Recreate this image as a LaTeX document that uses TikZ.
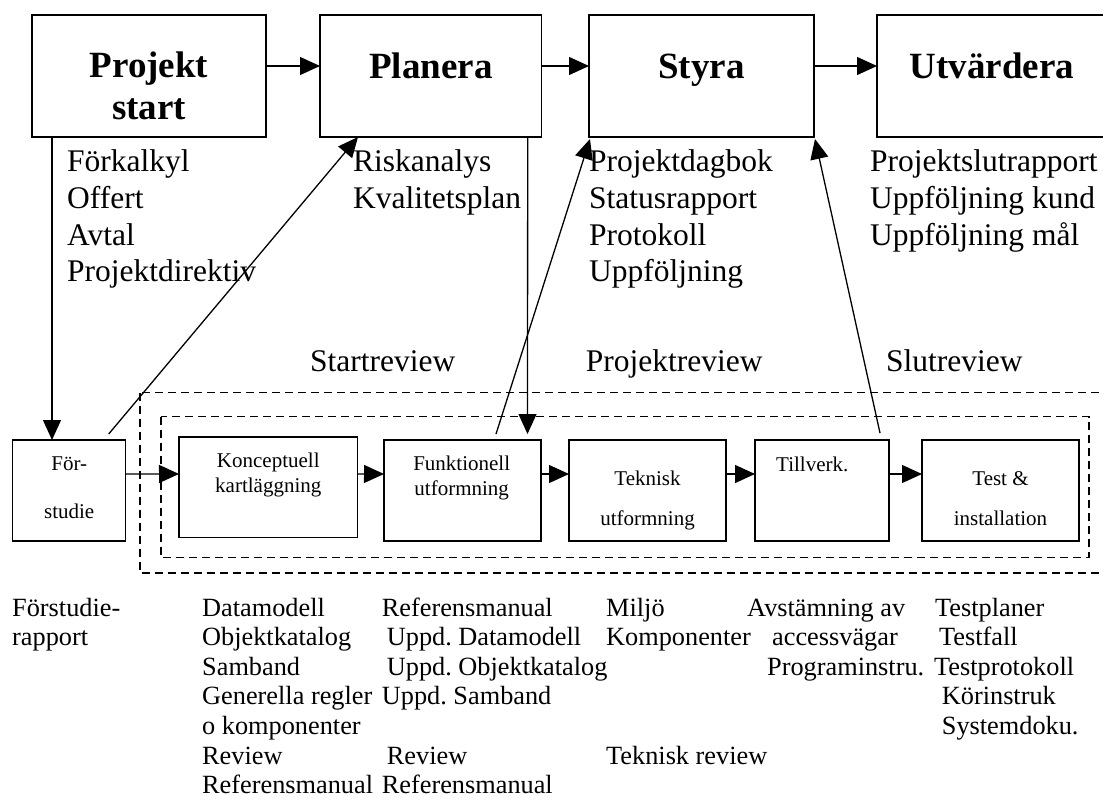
\documentclass[tikz,border=0pt]{standalone}
\usepackage{fontspec}
\setmainfont{Liberation Serif}
\usetikzlibrary{arrows.meta}
\frenchspacing
\begin{document}
\begin{tikzpicture}[x=1pt,y=-1pt,
  box/.style={draw, line width=1.5pt, inner sep=0pt, outer sep=0pt},
  arr/.style={line width=1.3pt, -{Triangle[length=20pt,width=18pt]}},
  reviewframe/.style={draw, line width=1.5pt, dash pattern=on 8pt off 5pt},
  phasetitle/.style={anchor=base, inner sep=0pt, font=\fontsize{37}{42}\selectfont\bfseries},
  toptxt/.style={anchor=base west, inner sep=0pt, font=\fontsize{31.5}{36}\selectfont},
  boxtxt/.style={anchor=base, inner sep=0pt, font=\fontsize{21}{24}\selectfont},
  bottxt/.style={anchor=base west, inner sep=0pt, font=\fontsize{26.3}{30}\selectfont}]
\useasboundingbox (0,0) rectangle (1103,801);

% main project phases
\node[box, minimum width=234pt, minimum height=122pt] (ps) at (149,76) {};
\node[box, minimum width=221.7pt, minimum height=122pt] (pl) at (430.85,76) {};
\node[box, minimum width=225pt, minimum height=122pt] (st) at (701.5,76) {};
\node[box, minimum width=230pt, minimum height=122pt] (ut) at (992,76) {};

\node[phasetitle] (ps-t1) at (149,77) {Projekt};
\node[phasetitle] (ps-t2) at (149,119) {start};
\node[phasetitle] (pl-t) at (431,78) {Planera};
\node[phasetitle] (st-t) at (701.5,78) {Styra};
\node[phasetitle] (ut-t) at (992,78) {Utvärdera};

% documents produced in each phase
\foreach \t [count=\i from 0] in {Förkalkyl,Offert,Avtal,Projektdirektiv}
  \node[toptxt] (ps-l\i) at (67,171.7+36.7*\i) {\t};
\foreach \t [count=\i from 0] in {Riskanalys,Kvalitetsplan}
  \node[toptxt] (pl-l\i) at (353,171.7+36.7*\i) {\t};
\foreach \t [count=\i from 0] in {Projektdagbok,Statusrapport,Protokoll,Uppföljning}
  \node[toptxt] (st-l\i) at (589,171.7+36.7*\i) {\t};
\foreach \t [count=\i from 0] in {Projektslutrapport,Uppföljning kund,Uppföljning mål}
  \node[toptxt] (ut-l\i) at (870,171.7+36.7*\i) {\t};

% reviews
\node[toptxt] (rv1) at (310,371.7) {Startreview};
\node[toptxt] (rv2) at (585.6,371.7) {Projektreview};
\node[toptxt] (rv3) at (885.8,371.7) {Slutreview};

% review frames
\draw[reviewframe] (140,392.7) rectangle (1115,573);
\draw[reviewframe] (161,416.7) rectangle (1089,557.5);

% development steps
\node[box, minimum width=113pt, minimum height=101pt] (fs) at (69.2,490.5) {};
\node[box, minimum width=178.7pt, minimum height=100.7pt] (ko) at (268.35,487.35) {};
\node[box, minimum width=157pt, minimum height=101pt] (fu) at (462.5,490.5) {};
\node[box, minimum width=157pt, minimum height=101pt] (te) at (647.5,490.5) {};
\node[box, minimum width=134pt, minimum height=101pt] (ti) at (822,490.5) {};
\node[box, minimum width=157pt, minimum height=101pt] (ts) at (1000.5,490.5) {};

\node[boxtxt] (fs-t1) at (69.2,470.7) {För-};
\node[boxtxt] (fs-t2) at (69.2,518) {studie};
\node[boxtxt] (ko-t1) at (268.3,467) {Konceptuell};
\node[boxtxt] (ko-t2) at (268.3,492.5) {kartläggning};
\node[boxtxt] (fu-t1) at (461.7,470) {Funktionell};
\node[boxtxt] (fu-t2) at (461.7,495) {utformning};
\node[boxtxt] (te-t1) at (647.5,485) {Teknisk};
\node[boxtxt] (te-t2) at (647.5,525) {utformning};
\node[boxtxt, anchor=base west] (ti-t) at (776,471) {Tillverk.};
\node[boxtxt] (ts-t1) at (1000.5,485) {Test \&};
\node[boxtxt] (ts-t2) at (1000.5,525) {installation};

% results of the development steps
\node[bottxt] (a0) at (12,616) {Förstudie-};
\node[bottxt] (a1) at (12,645.6) {rapport};
\foreach \t [count=\i from 0] in {Datamodell,Objektkatalog,Samband,Generella regler,o komponenter,Review,Referensmanual}
  \node[bottxt] (b\i) at (202,616+29.6*\i) {\t};
\node[bottxt] (c0) at (381.7,616) {Referensmanual};
\node[bottxt] (c1) at (386.7,645.6) {Uppd. Datamodell};
\node[bottxt] (c2) at (386.7,675.2) {Uppd. Objektkatalog};
\node[bottxt] (c3) at (381.7,704.8) {Uppd. Samband};
\node[bottxt] (c5) at (386.7,764) {Review};
\node[bottxt] (c6) at (381.7,793.6) {Referensmanual};
\node[bottxt] (d0) at (606,616) {Miljö};
\node[bottxt] (d1) at (606,645.6) {Komponenter};
\node[bottxt] (d5) at (606,764) {Teknisk review};
\node[bottxt] (e0) at (747,616) {Avstämning av};
\node[bottxt] (e1) at (772,645.6) {accessvägar};
\node[bottxt] (e2) at (767,675.2) {Programinstru.};
\node[bottxt] (f0) at (935,616) {Testplaner};
\node[bottxt] (f1) at (939,645.6) {Testfall};
\node[bottxt] (f2) at (934,675.2) {Testprotokoll};
\node[bottxt] (f3) at (941.7,704.8) {Körinstruk};
\node[bottxt] (f4) at (941.7,734.4) {Systemdoku.};

% phase flow
\draw[arr] ([yshift=10pt]ps.east) -- ([yshift=10pt]pl.west);
\draw[arr] ([yshift=10pt]pl.east) -- ([yshift=10pt]st.west);
\draw[arr] ([yshift=10pt]st.east) -- ([yshift=10pt]ut.west);

% step flow
\draw[arr] ([yshift=16.5pt]fs.east) -- ([yshift=13.4pt]ko.west);
\draw[arr] ([yshift=13.4pt]ko.east) -- ([yshift=16.5pt]fu.west);
\draw[arr] ([yshift=16.5pt]fu.east) -- ([yshift=16.5pt]te.west);
\draw[arr] ([yshift=16.5pt]te.east) -- ([yshift=16.5pt]ti.west);
\draw[arr] ([yshift=16.5pt]ti.east) -- ([yshift=16.5pt]ts.west);

% links between phases and steps
\draw[arr] ([xshift=20pt]ps.south west) -- ([xshift=39.3pt]fs.north west);
\draw[arr] ([xshift=-14pt]pl.south east) -- ([xshift=-13.5pt,yshift=6pt]fu.north east);
\draw[arr] ([xshift=96pt,yshift=6pt]fs.north west) -- ([xshift=38pt]pl.south west);
\draw[arr] ([xshift=112pt,yshift=6pt]fu.north west) -- ([xshift=1pt,yshift=-2pt]st.south west);
\draw[arr] ([xshift=125pt,yshift=7pt]ti.north west) -- ([xshift=1pt,yshift=-2pt]st.south east);
\end{tikzpicture}
\end{document}
